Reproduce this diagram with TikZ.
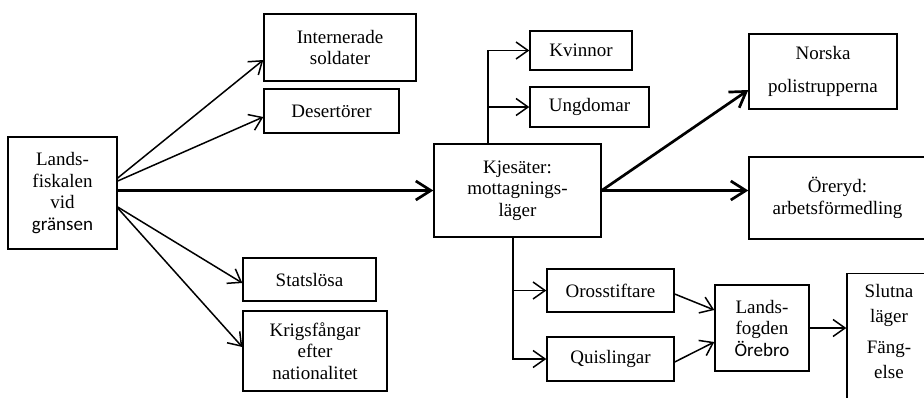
\documentclass[tikz,border=0pt]{standalone}
\usepackage{fontspec}
\setmainfont{Liberation Serif}
\newfontfamily\calibri{Carlito}
\usetikzlibrary{arrows.meta}
\tikzset{
  ruta/.style={draw,line width=1.4pt,align=center,inner sep=0pt,
    font=\fontsize{19}{21.5}\selectfont},
  pil/.style={line width=1.5pt,-{Straight Barb[length=12pt,width=17pt]}},
  tjockpil/.style={line width=2.7pt,-{Straight Barb[length=15pt,width=19pt]}}
}
\begin{document}
\begin{tikzpicture}[x=1pt,y=-1pt]
        \useasboundingbox (0,0) rectangle (924,397);
        \clip (0,0) rectangle (924,397);
        %Rutor
        \node[ruta,minimum width=109pt,minimum height=112pt] (lf) at (62.5,193) {Lands-\\fiskalen\\vid\\{\calibri gränsen}};
        \node[ruta,minimum width=152pt,minimum height=67pt] (intern) at (340,47.5) {Internerade\\soldater};
        \node[ruta,minimum width=135pt,minimum height=44pt] (desert) at (331.5,111) {Desertörer};
        \node[ruta,minimum width=133pt,minimum height=43pt] (stat) at (309.5,279.5) {Statslösa};
        \node[ruta,minimum width=144pt,minimum height=80pt] (krig) at (315,351) {Krigsfångar\\efter\\nationalitet};
        \node[ruta,minimum width=167pt,minimum height=93pt] (kje) at (517.5,190.5) {Kjesäter:\\mottagnings-\\läger};
        \node[ruta,minimum width=102pt,minimum height=39pt] (kvin) at (581,50.5) {Kvinnor};
        \node[ruta,minimum width=119pt,minimum height=40pt] (ungd) at (589.5,107) {Ungdomar};
        \node[ruta,minimum width=148pt,minimum height=75pt] (norska) at (823,71.5) {Norska\\[12pt]polistrupperna};
        \node[ruta,minimum width=177pt,minimum height=82pt] (orer) at (837.5,198) {Öreryd:\\arbetsförmedling};
        \node[ruta,minimum width=127pt,minimum height=43pt] (oros) at (610.5,290.5) {Orosstiftare};
        \node[ruta,minimum width=127pt,minimum height=44pt] (quis) at (610.5,359) {Quislingar};
        \node[ruta,minimum width=94pt,minimum height=86pt] (fogd) at (762,328) {Lands-\\fogden\\{\calibri Örebro}};
        \node[ruta,minimum width=84pt,inner ysep=10.5pt,anchor=north] (slut) at (889,273) {Slutna\\[3.5pt]läger\\[9.5pt]Fäng-\\[3.5pt]else\\[40pt]~};
        %Pilar från gränsen
        \draw[pil] ([yshift=15pt]lf.east) -- ([yshift=-12.5pt]intern.west);
        \draw[pil] ([yshift=12pt]lf.east) -- ([yshift=-6pt]desert.west);
        \draw[pil] ([yshift=-14pt]lf.east) -- ([yshift=-3.5pt]stat.west);
        \draw[pil] ([yshift=-15pt]lf.east) -- ([yshift=4pt]krig.west);
        \draw[tjockpil] (lf.east |- kje.west) -- (kje.west);
        %Pilar från Kjesäter
        \draw[pil] ([xshift=-29.5pt]kje.north) |- (kvin.west);
        \draw[pil] ([xshift=-29.5pt]kje.north) |- (ungd.west);
        \draw[tjockpil] (kje.east) -- ([yshift=-18.5pt]norska.west);
        \draw[tjockpil] (kje.east) -- (kje.east -| orer.west);
        \draw[pil] ([xshift=-4.5pt]kje.south) |- (oros.west);
        \draw[pil] ([xshift=-4.5pt]kje.south) |- (quis.west);
        %Landsfogden
        \draw[pil] ([yshift=-3.5pt]oros.east) -- ([yshift=18pt]fogd.west);
        \draw[pil] ([yshift=-3pt]quis.east) -- ([yshift=-14pt]fogd.west);
        \draw[pil] (fogd.east) -- (fogd.east -| slut.west);
\end{tikzpicture}
\end{document}
